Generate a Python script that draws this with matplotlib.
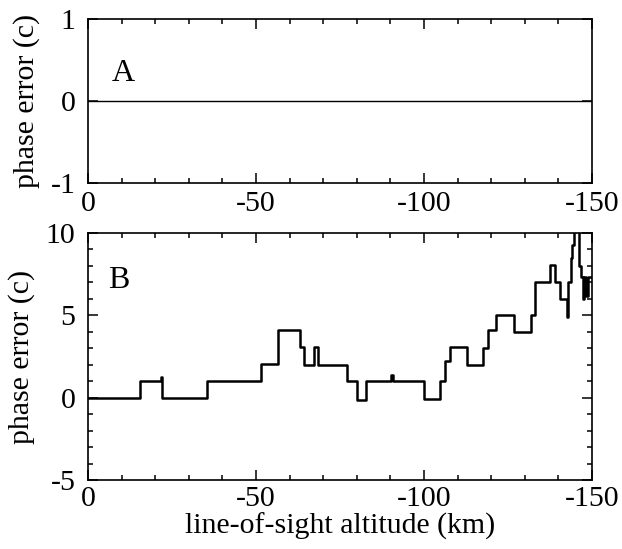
import matplotlib
matplotlib.use("Agg")
import matplotlib.pyplot as plt
from matplotlib.ticker import MultipleLocator

plt.rcParams["font.family"] = ["Liberation Serif", "DejaVu Serif"]
plt.rcParams["axes.unicode_minus"] = False

# panel A: phase error stays at zero
alt_a = [0, -150]
err_a = [0, 0]

# panel B: step-like phase error (step 'post')
alt_b = [0, -15.5, -21.6, -22.0, -35.3, -51.4, -56.4, -63.1, -64.3, -67.3,
         -68.5, -77.1, -80.1, -82.6, -90.2, -90.7, -99.9, -104.7, -106.2,
         -107.7, -112.9, -117.6, -119.1, -121.4, -126.7, -131.8, -133.1,
         -137.4, -138.9, -140.6, -142.6, -143.0, -143.6, -144.0, -144.5,
         -146.2, -146.6, -147.2, -147.6, -148.3, -148.8, -150.0]
err_b = [0.0, 1.0, 1.25, 0.0, 1.0, 2.05, 4.1, 3.1, 2.0, 3.1,
         2.0, 1.0, -0.15, 1.0, 1.4, 1.0, -0.1, 1.0, 2.2,
         3.05, 2.0, 3.0, 4.1, 5.0, 4.0, 5.0, 7.05,
         8.05, 7.0, 6.0, 4.9, 7.0, 8.5, 9.3, 10.5,
         8.0, 7.3, 6.0, 7.3, 6.2, 7.3, 7.3]

FS = 21.5


def style(ax, xpad):
    ax.tick_params(which="both", direction="in", top=True, right=True,
                   labelsize=FS, width=1.1)
    ax.tick_params(which="major", length=7)
    ax.tick_params(which="minor", length=3.5)
    ax.tick_params(axis="y", pad=9)
    ax.tick_params(axis="x", pad=xpad)
    for s in ax.spines.values():
        s.set_linewidth(1.2)
    ax.xaxis.set_major_locator(MultipleLocator(50))
    ax.xaxis.set_minor_locator(MultipleLocator(10))
    ax.set_xlim(0, -150)


fig = plt.figure(figsize=(6.22, 5.49), dpi=100)
ax1 = fig.add_axes([0.1415, 0.6667, 0.8103, 0.2987])
ax2 = fig.add_axes([0.1415, 0.1257, 0.8103, 0.4499])

ax1.plot(alt_a, err_a, color="black", lw=1.0)
style(ax1, 6)
ax1.set_ylim(-1, 1)
ax1.yaxis.set_major_locator(MultipleLocator(1))
ax1.set_ylabel("phase error (c)", fontsize=FS, labelpad=8)
ax1.text(0.048, 0.67, "A", transform=ax1.transAxes, fontsize=FS + 1.5,
         va="center", ha="left")

ax2.step(alt_b, err_b, where="post", color="black", lw=1.8)
style(ax2, 4)
ax2.set_ylim(-5, 10)
ax2.yaxis.set_major_locator(MultipleLocator(5))
ax2.yaxis.set_minor_locator(MultipleLocator(1))
ax2.set_ylabel("phase error (c)", fontsize=FS, labelpad=8)
ax2.set_xlabel("line-of-sight altitude (km)", fontsize=FS, labelpad=1)
ax2.text(0.04, 0.806, "B", transform=ax2.transAxes, fontsize=FS + 1.5,
         va="center", ha="left")

fig.savefig("out.png", dpi=100)
